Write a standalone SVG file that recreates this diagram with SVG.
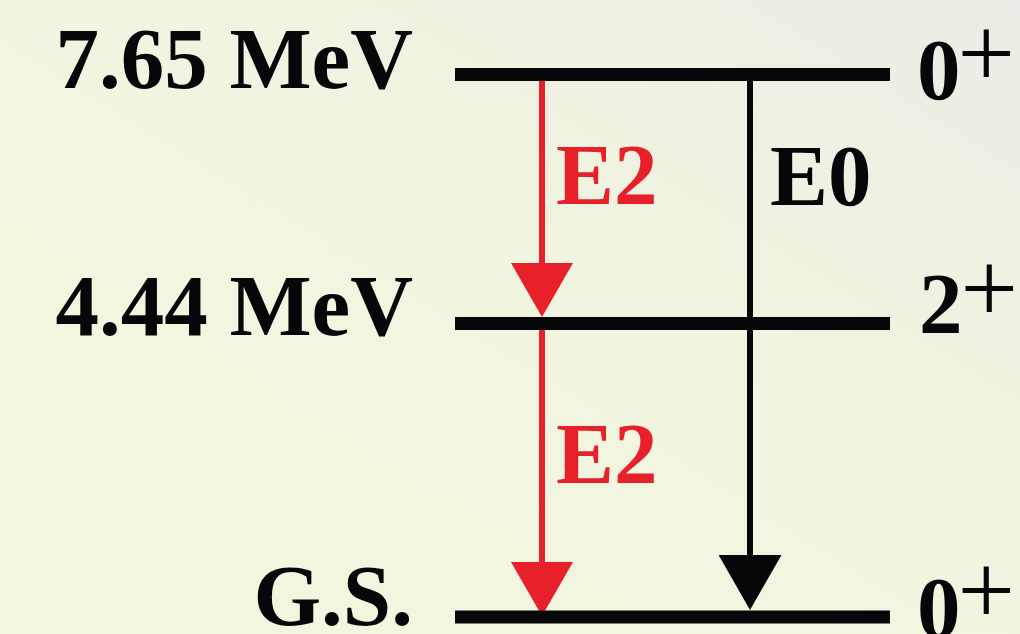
<svg xmlns="http://www.w3.org/2000/svg" width="1020" height="634" viewBox="0 0 1020 634">
<defs>
<linearGradient id="bg" x1="0" y1="1" x2="1" y2="0">
<stop offset="0" stop-color="#f4f7de"/>
<stop offset="0.6" stop-color="#f1f4e0"/>
<stop offset="1" stop-color="#ebede6"/>
</linearGradient>
<marker id="headRed" viewBox="0 0 54 62" markerWidth="54" markerHeight="62" markerUnits="userSpaceOnUse" refX="0" refY="31" orient="auto">
<path d="M0,0 L54,31 L0,62 Z" fill="#e8202a"/>
</marker>
<marker id="headBlack" viewBox="0 0 55 63" markerWidth="55" markerHeight="63" markerUnits="userSpaceOnUse" refX="0" refY="31.5" orient="auto">
<path d="M0,0 L55,31.5 L0,63 Z" fill="#050708"/>
</marker>
</defs>
<style>
.lbl{font-family:"Liberation Serif","Times New Roman",serif;font-weight:bold;font-size:87px;fill:#050708}
.red{fill:#e8202a}
.plus{font-family:"Liberation Serif","Times New Roman",serif;font-weight:normal;font-size:102px;fill:#050708}
.level{stroke:#050708;stroke-width:13;fill:none}
.e2{stroke:#e8202a;stroke-width:6;fill:none}
.e0{stroke:#050708;stroke-width:6;fill:none}
</style>
<rect x="0" y="0" width="1020" height="634" fill="url(#bg)"/>

<g id="connectors">
<line class="e2" x1="542" y1="80" x2="542" y2="263" marker-end="url(#headRed)"/>
<line class="e2" x1="542" y1="329" x2="542" y2="562" marker-end="url(#headRed)"/>
<line class="e0" x1="750" y1="80" x2="750" y2="555" marker-end="url(#headBlack)"/>
<text class="lbl red" x="556" y="204">E2</text>
<text class="lbl red" x="556" y="483">E2</text>
<text class="lbl" x="770" y="205">E0</text>
</g>

<g id="level-765">
<line class="level" x1="455" y1="74.5" x2="890" y2="74.5"/>
<text class="lbl" x="413" y="88" text-anchor="end">7.65 MeV</text>
<text class="lbl" x="917" y="99">0</text>
<text class="plus" x="957.5" y="87">+</text>
</g>

<g id="level-444">
<line class="level" x1="455" y1="323.5" x2="890" y2="323.5"/>
<text class="lbl" x="413" y="335" text-anchor="end">4.44 MeV</text>
<text class="lbl" x="919" y="333">2</text>
<text class="plus" x="960.5" y="321.5">+</text>
</g>

<g id="level-gs">
<line class="level" x1="455" y1="617" x2="890" y2="617"/>
<text class="lbl" x="413" y="625" text-anchor="end">G.S.</text>
<text class="lbl" x="917" y="637">0</text>
<text class="plus" x="957.5" y="624">+</text>
</g>
</svg>
